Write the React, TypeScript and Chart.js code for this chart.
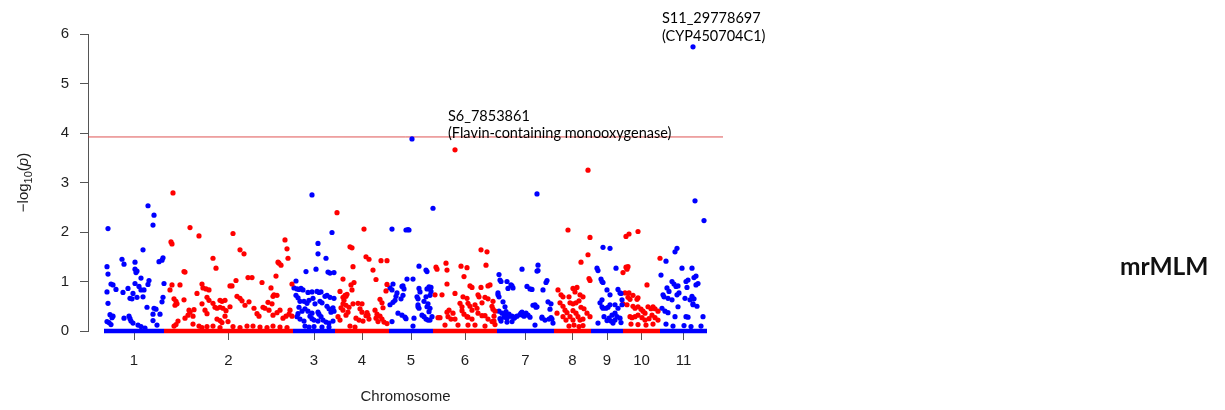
import React, { useEffect, useRef } from "react";
import { Chart, registerables } from "chart.js";

Chart.register(...registerables);

// ---------------- data ----------------
const chromosomeLabels = ["1", "2", "3", "4", "5", "6", "7", "8", "9", "10", "11"];
const chromosomeLengths = [60, 129, 42, 54, 44, 64, 57, 37, 32, 37, 47];
const seriesColors = ["#0000ff", "#ff0000"];
const yTickValues = [0, 1, 2, 3, 4, 5, 6];
const significanceThreshold = 3.92;
const xAxisTitle = "Chromosome";
const methodName = "mrMLM";

// [position within chromosome, -log10(p)]
const chr1: [number, number][] = [
  [4, 2.07], [44, 2.53], [50, 2.34], [49, 2.14], [39, 1.64], [59, 1.48], [58, 1.43], [55, 1.4], [18, 1.45], [20, 1.35],
  [31, 1.39], [31, 1.25], [33, 1.21], [32, 1.18], [3, 1.3], [4, 1.15], [7, 0.95], [9, 0.93], [12, 0.84], [3, 0.79],
  [19, 0.78], [24, 0.86], [31, 0.96], [37, 1.07], [35, 0.9], [37, 0.83], [45, 1.02], [44, 0.94], [40, 0.83], [39, 0.69],
  [29, 0.76], [26, 0.66], [28, 0.65], [33, 0.68], [43, 0.48], [50, 0.46], [52, 0.44], [4, 0.56], [58, 0.59], [60, 0.96],
  [59, 0.68], [6, 0.33], [9, 0.3], [8, 0.27], [3, 0.19], [5, 0.17], [7, 0.13], [25, 0.3], [26, 0.25], [27, 0.2],
  [29, 0.16], [34, 0.12], [37, 0.09], [41, 0.06], [49, 0.21], [53, 0.12], [56, 0.34], [49, 0.34], [20, 0.26],
];
const chr2: [number, number][] = [
  [9, 2.79], [7, 1.8], [8, 1.76], [20, 1.2], [21, 1.19], [26, 2.09], [35, 1.92], [49, 1.47], [52, 1.27], [69, 1.97],
  [76, 1.64], [80, 1.56], [84, 1.08], [88, 1.08], [72, 1.02], [66, 0.91], [68, 0.91], [98, 0.98], [107, 0.87], [110, 0.73],
  [109, 0.7], [113, 0.72], [114, 1.39], [115, 1.37], [117, 1.33], [121, 1.84], [123, 1.66], [124, 1.47], [128, 0.95], [112, 1.11],
  [6, 0.83], [8, 0.93], [16, 0.93], [10, 0.65], [12, 0.6], [13, 0.55], [11, 0.52], [20, 0.63], [25, 0.42], [14, 0.2],
  [12, 0.13], [10, 0.1], [21, 0.26], [24, 0.32], [26, 0.38], [30, 0.43], [33, 0.76], [29, 0.3], [29, 0.14], [38, 0.95],
  [39, 0.87], [42, 0.85], [45, 0.83], [43, 0.68], [45, 0.62], [49, 0.56], [51, 0.48], [53, 0.46], [56, 0.48], [59, 0.46],
  [56, 0.62], [58, 0.6], [61, 0.62], [53, 0.24], [56, 0.21], [58, 0.17], [62, 0.41], [61, 0.3], [64, 0.19], [66, 0.49],
  [73, 0.7], [76, 0.66], [78, 0.61], [81, 0.52], [85, 0.59], [90, 0.46], [93, 0.35], [95, 0.3], [99, 0.48], [101, 0.46],
  [105, 0.42], [104, 0.58], [108, 0.55], [109, 0.32], [113, 0.37], [116, 0.42], [119, 0.26], [122, 0.3], [125, 0.34], [128, 0.3],
  [126, 0.42], [35, 0.1], [38, 0.07], [43, 0.09], [49, 0.1], [56, 0.07], [69, 0.09], [76, 0.07], [83, 0.1], [89, 0.1],
  [96, 0.08], [103, 0.07], [109, 0.1], [116, 0.08], [123, 0.07], [38, 0.55], [41, 0.42], [43, 0.35],
];
const chr3: [number, number][] = [
  [19, 2.75], [39, 1.99], [25, 1.77], [25, 1.56], [33, 1.47], [13, 1.2], [23, 1.25], [35, 1.19], [37, 1.17], [41, 1.18],
  [3, 1.01], [1, 0.87], [4, 0.85], [6, 0.84], [8, 0.86], [10, 0.83], [15, 0.78], [19, 0.79], [24, 0.8], [26, 0.78],
  [28, 0.79], [32, 0.7], [34, 0.72], [37, 0.68], [41, 0.66], [3, 0.72], [5, 0.67], [7, 0.6], [11, 0.6], [14, 0.56],
  [16, 0.62], [20, 0.66], [22, 0.55], [27, 0.6], [29, 0.57], [34, 0.5], [36, 0.45], [38, 0.38], [6, 0.48], [9, 0.4],
  [5, 0.35], [12, 0.45], [15, 0.4], [19, 0.36], [25, 0.38], [26, 0.34], [28, 0.29], [4, 0.29], [7, 0.24], [11, 0.2],
  [17, 0.3], [19, 0.25], [21, 0.22], [25, 0.2], [30, 0.22], [33, 0.18], [36, 0.16], [40, 0.2], [12, 0.1], [16, 0.08],
  [21, 0.09], [29, 0.08], [36, 0.08], [40, 0.47], [41, 0.4],
];
const chr4: [number, number][] = [
  [2, 2.39], [15, 1.7], [17, 1.68], [18, 1.3], [8, 1.05], [19, 0.98], [29, 2.06], [31, 1.5], [34, 1.45], [38, 1.23],
  [41, 1.04], [46, 1.42], [52, 1.42], [5, 0.8], [8, 0.68], [12, 0.74], [10, 0.72], [11, 0.7], [9, 0.62], [8, 0.55],
  [6, 0.47], [8, 0.42], [11, 0.32], [13, 0.38], [3, 0.29], [5, 0.22], [16, 0.93], [17, 0.83], [11, 0.52], [14, 0.48],
  [23, 0.56], [25, 0.45], [27, 0.38], [31, 0.31], [34, 0.24], [21, 0.26], [24, 0.22], [28, 0.2], [40, 0.42], [42, 0.34],
  [41, 0.26], [43, 0.19], [45, 0.64], [47, 0.57], [48, 0.47], [51, 0.81], [52, 0.94], [45, 0.3], [47, 0.24], [49, 0.18],
  [52, 0.15], [32, 0.37], [33, 0.32], [18, 0.55], [27, 0.55], [15, 0.1], [20, 0.08],
];
const chr5: [number, number][] = [
  [23, 3.88], [44, 2.48], [3, 2.06], [17, 2.04], [19, 2.05], [20, 2.04], [30, 1.31], [38, 1.2], [37, 1.23], [18, 1.05],
  [24, 1.05], [1, 0.87], [3, 0.83], [4, 0.95], [14, 0.91], [13, 0.9], [8, 0.77], [7, 0.7], [6, 0.62], [1, 0.53],
  [4, 0.58], [15, 0.85], [14, 0.72], [12, 0.65], [30, 0.86], [31, 0.79], [40, 0.89], [38, 0.85], [28, 0.69], [29, 0.65],
  [29, 0.53], [37, 0.69], [35, 0.6], [39, 0.55], [41, 0.72], [42, 0.8], [42, 0.88], [29, 0.49], [30, 0.46], [38, 0.49],
  [41, 0.46], [40, 0.39], [9, 0.36], [13, 0.32], [3, 0.19], [33, 0.32], [35, 0.29], [41, 0.22], [43, 0.29], [24, 0.1],
  [16, 0.28], [17, 0.25], [25, 0.26], [37, 0.24], [39, 0.22],
];
const chr6: [number, number][] = [
  [22, 3.66], [48, 1.64], [54, 1.6], [53, 1.33], [13, 1.37], [14, 1.23], [3, 1.29], [4, 1.25], [28, 1.31], [34, 1.28],
  [31, 1.1], [14, 0.95], [37, 0.91], [39, 0.88], [48, 0.88], [55, 0.91], [57, 0.93], [9, 0.73], [2, 0.73], [22, 0.76],
  [30, 0.69], [34, 0.66], [45, 0.73], [46, 0.69], [52, 0.68], [55, 0.65], [27, 0.56], [29, 0.49], [35, 0.56], [37, 0.5],
  [39, 0.42], [42, 0.53], [44, 0.46], [49, 0.57], [16, 0.42], [14, 0.38], [20, 0.36], [29, 0.41], [31, 0.34], [34, 0.29],
  [45, 0.36], [49, 0.31], [52, 0.31], [15, 0.29], [18, 0.24], [22, 0.24], [5, 0.27], [7, 0.27], [35, 0.28], [39, 0.24],
  [55, 0.24], [59, 0.19], [12, 0.12], [25, 0.12], [35, 0.12], [42, 0.12], [52, 0.1], [60, 0.6], [62, 0.4], [61, 0.3],
  [59, 0.5], [60, 0.44], [61, 0.2], [62, 0.13],
];
const chr7: [number, number][] = [
  [2, 1.14], [3, 1.03], [4, 1.0], [10, 1.0], [11, 0.86], [15, 0.91], [14, 0.93], [16, 0.87], [1, 0.73], [2, 0.69],
  [1, 0.77], [25, 1.25], [6, 0.59], [8, 0.49], [9, 0.39], [2, 0.4], [5, 0.36], [8, 0.33], [12, 0.34], [15, 0.3],
  [18, 0.28], [3, 0.25], [7, 0.28], [10, 0.26], [13, 0.3], [17, 0.26], [20, 0.3], [23, 0.33], [4, 0.2], [10, 0.18],
  [15, 0.19], [30, 0.9], [33, 0.85], [35, 0.84], [24, 0.36], [26, 0.32], [29, 0.36], [31, 0.32], [40, 1.21], [41, 1.33],
  [36, 0.52], [39, 0.48], [40, 2.77], [41, 1.22], [46, 0.83], [49, 0.98], [50, 1.02], [51, 0.59], [53, 0.44], [54, 0.27],
  [55, 0.24], [45, 0.26], [48, 0.22], [56, 0.16], [38, 0.12], [38, 0.53], [40, 0.49], [54, 0.55], [25, 0.38], [27, 0.3],
  [33, 0.28], [45, 0.28], [52, 0.24],
];
const chr8: [number, number][] = [
  [34, 3.25], [14, 2.04], [36, 1.89], [27, 1.39], [34, 1.54], [35, 1.06], [36, 1.02], [4, 0.83], [7, 0.73], [19, 0.86],
  [21, 0.79], [23, 0.88], [9, 0.69], [15, 0.69], [26, 0.73], [29, 0.69], [6, 0.57], [9, 0.5], [16, 0.57], [19, 0.55],
  [22, 0.57], [25, 0.61], [27, 0.48], [30, 0.45], [11, 0.42], [13, 0.37], [19, 0.41], [22, 0.36], [33, 0.36], [36, 0.29],
  [3, 0.36], [9, 0.29], [12, 0.22], [16, 0.29], [19, 0.22], [24, 0.29], [26, 0.22], [29, 0.24], [15, 0.1], [20, 0.12],
  [25, 0.09], [29, 0.11],
];
const chr9: [number, number][] = [
  [12, 1.69], [19, 1.67], [6, 1.27], [7, 1.22], [10, 1.05], [11, 1.0], [12, 0.98], [25, 1.27], [16, 0.83], [19, 0.73],
  [11, 0.63], [9, 0.57], [11, 0.49], [12, 0.46], [24, 0.53], [27, 0.46], [27, 0.84], [29, 0.77], [30, 0.76], [31, 0.63],
  [31, 0.53], [15, 0.46], [17, 0.48], [19, 0.53], [21, 0.32], [24, 0.22], [24, 0.36], [26, 0.29], [18, 0.26], [20, 0.2],
  [22, 0.16], [7, 0.16], [13, 0.29], [16, 0.21], [29, 0.26], [30, 0.17],
];
const chr10: [number, number][] = [
  [3, 1.91], [6, 1.96], [15, 2.01], [3, 1.29], [5, 1.3], [4, 1.25], [0, 1.18], [37, 1.47], [24, 0.93], [2, 0.77],
  [6, 0.77], [5, 0.68], [7, 0.64], [14, 0.64], [0, 0.55], [4, 0.53], [10, 0.5], [12, 0.46], [15, 0.49], [18, 0.44],
  [20, 0.4], [22, 0.36], [25, 0.49], [28, 0.45], [30, 0.49], [32, 0.45], [35, 0.4], [7, 0.29], [9, 0.27], [12, 0.29],
  [15, 0.32], [19, 0.27], [22, 0.22], [26, 0.25], [29, 0.32], [32, 0.27], [35, 0.22], [8, 0.14], [15, 0.13], [23, 0.12],
  [30, 0.14], [10, 0.72], [15, 0.67],
];
const chr11: [number, number][] = [
  [33, 5.74], [35, 2.63], [44, 2.23], [17, 1.67], [15, 1.6], [6, 1.41], [22, 1.27], [32, 1.27], [1, 1.13], [12, 1.0],
  [14, 0.95], [16, 0.9], [18, 0.91], [26, 1.0], [28, 1.03], [34, 1.08], [36, 1.11], [38, 0.96], [36, 0.93], [27, 0.88],
  [7, 0.87], [9, 0.8], [3, 0.73], [4, 0.69], [8, 0.66], [12, 0.63], [17, 0.73], [19, 0.77], [25, 0.66], [32, 0.7],
  [34, 0.65], [33, 0.55], [37, 0.5], [18, 0.49], [2, 0.46], [5, 0.4], [8, 0.37], [15, 0.29], [26, 0.29], [28, 0.28],
  [43, 0.29], [6, 0.14], [13, 0.1], [24, 0.11], [31, 0.09], [41, 0.1], [30, 0.63], [33, 0.53],
];

const chromosomePoints = [chr1, chr2, chr3, chr4, chr5, chr6, chr7, chr8, chr9, chr10, chr11];

const highlightedSnps = [
  { chromosome: 6, position: 22, lines: ["S6_7853861", "(Flavin-containing monooxygenase)"] },
  { chromosome: 11, position: 33, lines: ["S11_29778697", "(CYP450704C1)"] },
];

// ---------------- derived ----------------
const chromosomeStarts = chromosomeLengths.map((_, i) =>
  chromosomeLengths.slice(0, i).reduce((a, b) => a + b, 0)
);
const genomeLength = chromosomeLengths.reduce((a, b) => a + b, 0);
const chromosomeMids = chromosomeLengths.map((len, i) => chromosomeStarts[i] + len / 2);
const X_MIN = -16;
const X_MAX = genomeLength + 16;

const textColor = "#1e1e1e";
const axisColor = "#555555";

const labelNudges = [
  { dx: -7, dy: [-34, -17] },
  { dx: -31, dy: [-29, -11] },
];

const textPlugin = {
  id: "manhattanText",
  afterDraw(chart: any) {
    const ctx = chart.ctx as CanvasRenderingContext2D;
    const { chartArea } = chart;
    const xs = chart.scales.x;
    const ys = chart.scales.y;
    ctx.save();
    ctx.fillStyle = textColor;

    // x axis title
    ctx.font = "15px 'Liberation Sans', Arial, sans-serif";
    ctx.textAlign = "center";
    ctx.textBaseline = "middle";
    ctx.fillText(xAxisTitle, (chartArea.left + chartArea.right) / 2, 397);

    // y axis title: −log10(p)
    const parts = [
      { t: "\u2212log", f: "15px 'Liberation Sans', Arial, sans-serif", dy: 0 },
      { t: "10", f: "11px 'Liberation Sans', Arial, sans-serif", dy: 4 },
      { t: "(", f: "15px 'Liberation Sans', Arial, sans-serif", dy: 0 },
      { t: "p", f: "italic 15px 'Liberation Sans', Arial, sans-serif", dy: 0 },
      { t: ")", f: "15px 'Liberation Sans', Arial, sans-serif", dy: 0 },
    ];
    let total = 0;
    const widths = parts.map((p) => {
      ctx.font = p.f;
      const w = ctx.measureText(p.t).width;
      total += w;
      return w;
    });
    ctx.translate(28, (chartArea.top + chartArea.bottom) / 2);
    ctx.rotate(-Math.PI / 2);
    ctx.textAlign = "left";
    ctx.textBaseline = "alphabetic";
    let cx = -total / 2;
    parts.forEach((p, i) => {
      ctx.font = p.f;
      ctx.fillText(p.t, cx, p.dy);
      cx += widths[i];
    });
    ctx.setTransform(1, 0, 0, 1, 0, 0);

    // SNP annotations
    ctx.font = "14.5px Lato, 'Open Sans', sans-serif";
    ctx.textAlign = "left";
    ctx.textBaseline = "middle";
    ctx.fillStyle = "#000000";
    highlightedSnps.forEach((snp, i) => {
      const ci = snp.chromosome - 1;
      const pt = chromosomePoints[ci].find((p) => p[0] === snp.position);
      if (!pt) return;
      const px = xs.getPixelForValue(chromosomeStarts[ci] + pt[0]);
      const py = ys.getPixelForValue(pt[1]);
      const n = labelNudges[i];
      snp.lines.forEach((line, j) => ctx.fillText(line, px + n.dx, py + n.dy[j]));
    });

    // method name
    ctx.font = "bold 24.5px Lato, 'Open Sans', sans-serif";
    ctx.fillStyle = "#111111";
    ctx.fillText(methodName, 1120, 267);
    ctx.restore();
  },
};

export default function App() {
  const ref = useRef<HTMLCanvasElement | null>(null);

  useEffect(() => {
    if (!ref.current) return;
    const datasets: any[] = [];
    // zero bands (dense SNPs near -log10(p)=0)
    chromosomeLengths.forEach((len, i) => {
      datasets.push({
        type: "scatter",
        data: [
          { x: chromosomeStarts[i], y: 0 },
          { x: chromosomeStarts[i] + len, y: 0 },
        ],
        showLine: true,
        borderColor: seriesColors[i % 2],
        borderWidth: 4.5,
        pointRadius: 0,
        clip: false,
      });
    });
    chromosomePoints.forEach((pts, i) => {
      datasets.push({
        type: "scatter",
        data: pts.map(([pos, v]) => ({ x: chromosomeStarts[i] + pos, y: v })),
        backgroundColor: seriesColors[i % 2],
        borderWidth: 0,
        pointRadius: 2.6,
        clip: false,
      });
    });
    datasets.push({
      type: "scatter",
      data: [
        { x: X_MIN, y: significanceThreshold },
        { x: X_MAX, y: significanceThreshold },
      ],
      showLine: true,
      borderColor: "rgba(215,40,40,0.8)",
      borderWidth: 1,
      pointRadius: 0,
    });

    const chart = new Chart(ref.current, {
      type: "scatter",
      data: { datasets },
      options: {
        animation: false,
        responsive: false,
        events: [],
        layout: { padding: { left: 0, right: 502, top: 34, bottom: 0 } },
        plugins: { legend: { display: false }, tooltip: { enabled: false } },
        scales: {
          x: {
            type: "linear",
            min: X_MIN,
            max: X_MAX,
            afterFit: (s: any) => {
              s.height = 79;
            },
            afterBuildTicks: (s: any) => {
              s.ticks = chromosomeMids.map((v) => ({ value: v }));
            },
            ticks: {
              autoSkip: false,
              maxRotation: 0,
              padding: 12,
              color: textColor,
              font: { size: 15, family: "'Liberation Sans', Arial, sans-serif" },
              callback: (_v: any, i: number) => chromosomeLabels[i],
            },
            grid: { drawOnChartArea: false, drawTicks: true, tickLength: 9, color: axisColor },
            border: { display: false },
          },
          y: {
            type: "linear",
            min: 0,
            max: 6,
            afterFit: (s: any) => {
              s.width = 88;
            },
            afterBuildTicks: (s: any) => {
              s.ticks = yTickValues.map((v) => ({ value: v }));
            },
            ticks: {
              padding: 11,
              color: textColor,
              font: { size: 15, family: "'Liberation Sans', Arial, sans-serif" },
            },
            grid: { drawOnChartArea: false, drawTicks: true, tickLength: 8, color: axisColor },
            border: { display: true, color: axisColor },
          },
        },
      },
      plugins: [textPlugin],
    });
    return () => chart.destroy();
  }, []);

  return (
    <div style={{ position: "absolute", left: 0, top: 0, width: 1225, height: 410, background: "#fff" }}>
      <canvas ref={ref} width={1225} height={410} style={{ display: "block" }} />
    </div>
  );
}
